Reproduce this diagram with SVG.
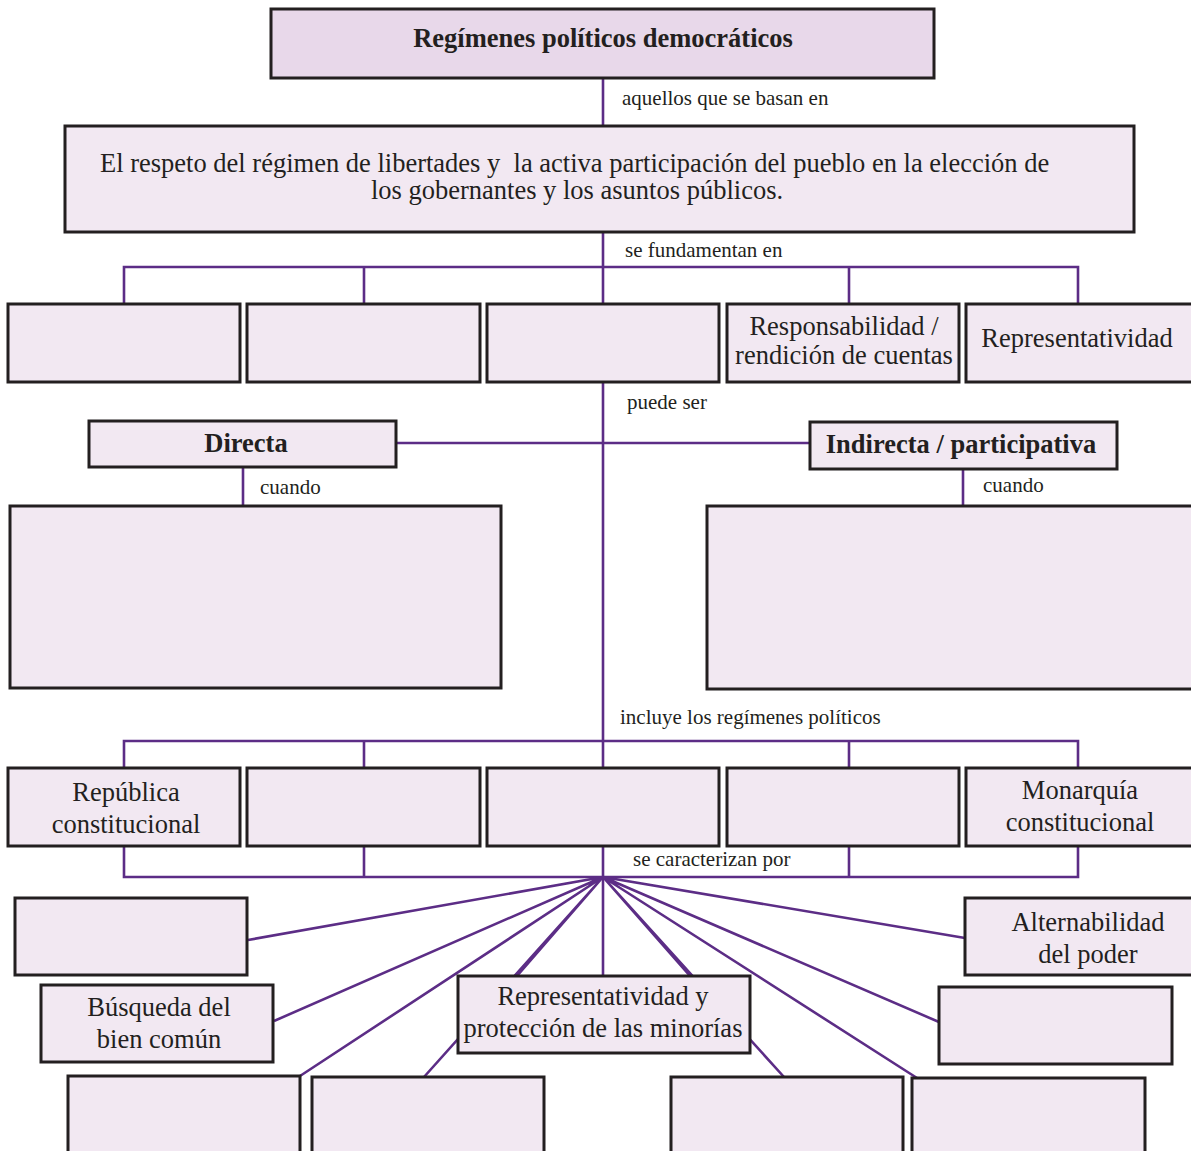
<svg xmlns="http://www.w3.org/2000/svg" width="1191" height="1151" viewBox="0 0 1191 1151">
<style>
.bx{fill:#f2e8f2;stroke:#231f20;stroke-width:3}
.ti{fill:#e8d8ea;stroke:#231f20;stroke-width:3}
.ln{stroke:#5c2d86;stroke-width:2.6;fill:none}
.t{font-family:"Liberation Serif","Times New Roman",serif;fill:#231f20}
.lb{font-size:21px}
.bt{font-size:26.5px;text-anchor:middle}
.bb{font-size:26.5px;font-weight:bold;text-anchor:middle}
</style>
<rect width="1191" height="1151" fill="#ffffff"/>
<g id="connectors">
<path class="ln" d="M603 78V976"/>
<path class="ln" d="M124 304V267H1078V304M364 267V304M849 267V304"/>
<path class="ln" d="M397 443H810"/>
<path class="ln" d="M243 467V506M963 469V506"/>
<path class="ln" d="M124 768V741H1078V768M364 741V768M849 741V768"/>
<path class="ln" d="M124 846V877H1078V846M364 846V877M849 846V877"/>
<path class="ln" d="M603 877L248 940M603 877L274 1021M603 877L300 1076M603 877L424 1077M603 877L517 976M603 877L690 976M603 877L784 1077M603 877L917 1078M603 877L939 1022M603 877L965 938"/>
<text class="t lb" x="622" y="105">aquellos que se basan en</text>
<text class="t lb" x="625" y="257">se fundamentan en</text>
<text class="t lb" x="627" y="409">puede ser</text>
<text class="t lb" x="260" y="494">cuando</text>
<text class="t lb" x="983" y="492">cuando</text>
<text class="t lb" x="620" y="724">incluye los regímenes políticos</text>
<text class="t lb" x="633" y="866">se caracterizan por</text>
</g>
<g id="title"><rect class="ti" x="271" y="9" width="663" height="69"/><text class="t bb" x="603" y="47">Regímenes políticos democráticos</text></g>
<g id="definicion"><rect class="bx" x="65" y="126" width="1069" height="106"/>
<text class="t" font-size="26.5" x="100" y="172" xml:space="preserve">El respeto del régimen de libertades y  la activa participación del pueblo en la elección de</text>
<text class="t bt" x="577" y="199">los gobernantes y los asuntos públicos.</text></g>
<g id="fund1"><rect class="bx" x="8" y="304" width="232" height="78"/></g>
<g id="fund2"><rect class="bx" x="247" y="304" width="233" height="78"/></g>
<g id="fund3"><rect class="bx" x="487" y="304" width="232" height="78"/></g>
<g id="fund4"><rect class="bx" x="727" y="304" width="232" height="78"/><text class="t bt" x="844" y="335">Responsabilidad /</text><text class="t bt" x="844" y="364">rendición de cuentas</text></g>
<g id="fund5"><rect class="bx" x="966" y="304" width="232" height="78"/><text class="t bt" x="1077" y="347">Representatividad</text></g>
<g id="directa"><rect class="bx" x="89" y="421" width="307" height="46"/><text class="t bb" x="246" y="452">Directa</text></g>
<g id="indirecta"><rect class="bx" x="810" y="422" width="307" height="47"/><text class="t bb" x="961" y="453">Indirecta / participativa</text></g>
<g id="cuando1"><rect class="bx" x="10" y="506" width="491" height="182"/></g>
<g id="cuando2"><rect class="bx" x="707" y="506" width="490" height="183"/></g>
<g id="reg1"><rect class="bx" x="8" y="768" width="232" height="78"/><text class="t bt" x="126" y="801">República</text><text class="t bt" x="126" y="833">constitucional</text></g>
<g id="reg2"><rect class="bx" x="247" y="768" width="233" height="78"/></g>
<g id="reg3"><rect class="bx" x="487" y="768" width="232" height="78"/></g>
<g id="reg4"><rect class="bx" x="727" y="768" width="232" height="78"/></g>
<g id="reg5"><rect class="bx" x="966" y="768" width="232" height="78"/><text class="t bt" x="1080" y="799">Monarquía</text><text class="t bt" x="1080" y="831">constitucional</text></g>
<g id="car1"><rect class="bx" x="15" y="898" width="232" height="77"/></g>
<g id="car2"><rect class="bx" x="41" y="985" width="232" height="77"/><text class="t bt" x="159" y="1016">Búsqueda del</text><text class="t bt" x="159" y="1048">bien común</text></g>
<g id="car3"><rect class="bx" x="68" y="1076" width="232" height="85"/></g>
<g id="car4"><rect class="bx" x="312" y="1077" width="232" height="85"/></g>
<g id="car5"><rect class="bx" x="458" y="976" width="292" height="77"/><text class="t bt" x="603" y="1005">Representatividad y</text><text class="t bt" x="603" y="1037">protección de las minorías</text></g>
<g id="car6"><rect class="bx" x="671" y="1077" width="232" height="85"/></g>
<g id="car7"><rect class="bx" x="912" y="1078" width="233" height="85"/></g>
<g id="car8"><rect class="bx" x="939" y="987" width="233" height="77"/></g>
<g id="car9"><rect class="bx" x="965" y="898" width="232" height="77"/><text class="t bt" x="1088" y="931">Alternabilidad</text><text class="t bt" x="1088" y="963">del poder</text></g>
</svg>
